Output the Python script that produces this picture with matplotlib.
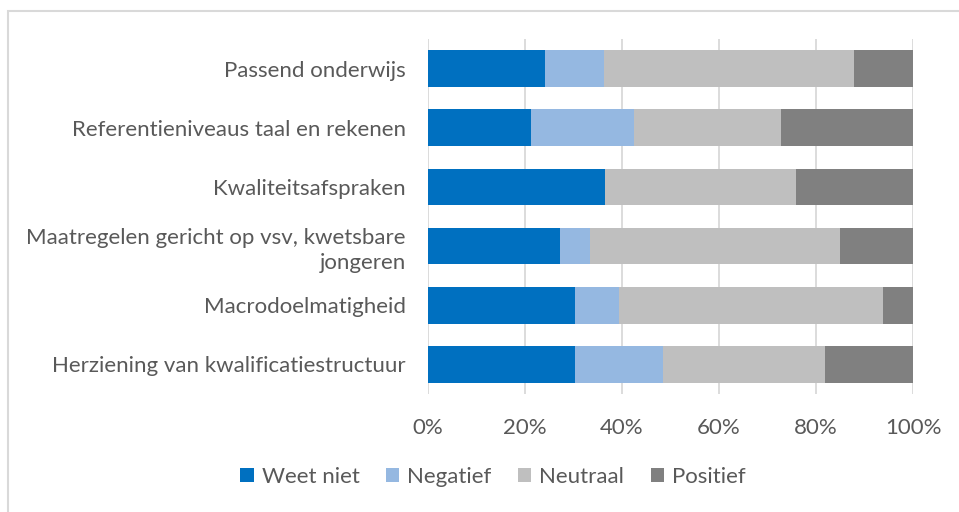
import matplotlib
matplotlib.use("Agg")
import matplotlib.pyplot as plt
from matplotlib.patches import Rectangle
from matplotlib.ticker import PercentFormatter

# --- Data (percentages, top to bottom) ---
categories = [
    "Passend onderwijs",
    "Referentieniveaus taal en rekenen",
    "Kwaliteitsafspraken",
    "Maatregelen gericht op vsv, kwetsbare\njongeren",
    "Macrodoelmatigheid",
    "Herziening van kwalificatiestructuur",
]
weet_niet = [24.2, 21.2, 36.4, 27.3, 30.3, 30.3]
negatief = [12.1, 21.2, 0.0, 6.1, 9.1, 18.2]
neutraal = [51.5, 30.3, 39.4, 51.5, 54.5, 33.3]
positief = [12.1, 27.3, 24.2, 15.2, 6.1, 18.2]

series = ["Weet niet", "Negatief", "Neutraal", "Positief"]
colors = ["#0070c0", "#95b8e1", "#bfbfbf", "#808080"]

plt.rcParams["font.family"] = ["Lato", "DejaVu Sans"]
text_col = "#595959"
fs = 16

fig = plt.figure(figsize=(9.59, 5.12), dpi=100)
# chart-area border (partly off the canvas, as in the source)
fig.patches.append(Rectangle((8 / 959, -0.1), 1.1, 1 - 11 / 512 + 0.1,
                             transform=fig.transFigure, fill=False,
                             edgecolor="#d9d9d9", linewidth=1.5))

ax = fig.add_axes([428 / 959, 1 - 394 / 512, 485 / 959, 355 / 512])

y = list(range(len(categories)))
left = [0.0] * len(categories)
for name, vals, c in zip(series, [weet_niet, negatief, neutraal, positief], colors):
    ax.barh(y, vals, left=left, height=0.62, color=c, label=name, zorder=3)
    left = [l + v for l, v in zip(left, vals)]

ax.set_xlim(0, 100)
ax.set_ylim(len(categories) - 0.5, -0.5)
ax.set_yticks(y)
ax.set_yticklabels(categories, fontsize=fs, color=text_col, ha="right",
                   multialignment="right", linespacing=1.3)
ax.xaxis.set_major_formatter(PercentFormatter(decimals=0))
ax.set_xticks([0, 20, 40, 60, 80, 100])
ax.tick_params(axis="x", labelsize=fs, labelcolor=text_col, length=0, pad=17)
ax.tick_params(axis="y", length=0, pad=16)
ax.grid(axis="x", color="#d9d9d9", linewidth=1.3, zorder=0)
for s in ax.spines.values():
    s.set_visible(False)

fig.legend(loc="center", bbox_to_anchor=(493 / 959, 1 - 477 / 512), ncol=4,
           frameon=False, fontsize=fs, labelcolor=text_col, handlelength=0.6,
           handleheight=0.6, handletextpad=0.35, columnspacing=1.2)

fig.savefig("out.png", dpi=100)
